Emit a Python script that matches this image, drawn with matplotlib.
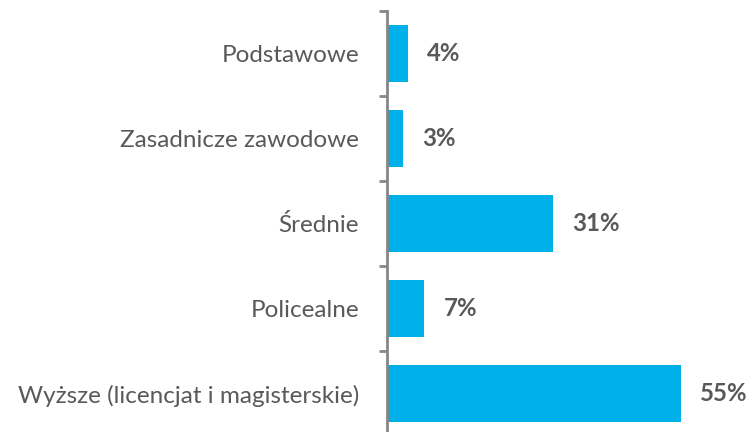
import matplotlib
matplotlib.use("Agg")
import matplotlib.pyplot as plt

# education level distribution
categories = [
    "Podstawowe",
    "Zasadnicze zawodowe",
    "Średnie",
    "Policealne",
    "Wyższe (licencjat i magisterskie)",
]
shares = [4, 3, 31, 7, 55]
labels = ["4%", "3%", "31%", "7%", "55%"]

bar_color = "#00B0E8"
text_color = "#595959"
axis_color = "#868686"

plt.rcParams["font.family"] = ["Lato", "DejaVu Sans"]

fig = plt.figure(figsize=(7.49, 4.32), dpi=100)
ax = fig.add_axes([387 / 749, -4 / 432, 362 / 749, 425 / 432])

pos = list(range(len(categories)))
ax.barh(pos, shares, height=0.68, color=bar_color)

for p, v, lab in zip(pos, shares, labels):
    ax.annotate(lab, (v, p), xytext=(19, 0), textcoords="offset pixels",
                va="center", ha="left", fontsize=17.3, fontweight="bold",
                color=text_color)

ax.set_xlim(0, 362 / 5.345)
ax.set_ylim(len(categories) - 0.5, -0.5)

ax.set_yticks(pos)
ax.set_yticklabels(categories, fontsize=17.5, color=text_color)
ax.set_yticks([p + 0.5 for p in [-1] + pos], minor=True)
ax.tick_params(axis="y", which="major", length=0, pad=20)
ax.tick_params(axis="y", which="minor", length=6, width=2, color=axis_color)
ax.set_xticks([])

for s in ["top", "right", "bottom"]:
    ax.spines[s].set_visible(False)
ax.spines["left"].set_color(axis_color)
ax.spines["left"].set_linewidth(2)

fig.savefig("out.png", dpi=100)
